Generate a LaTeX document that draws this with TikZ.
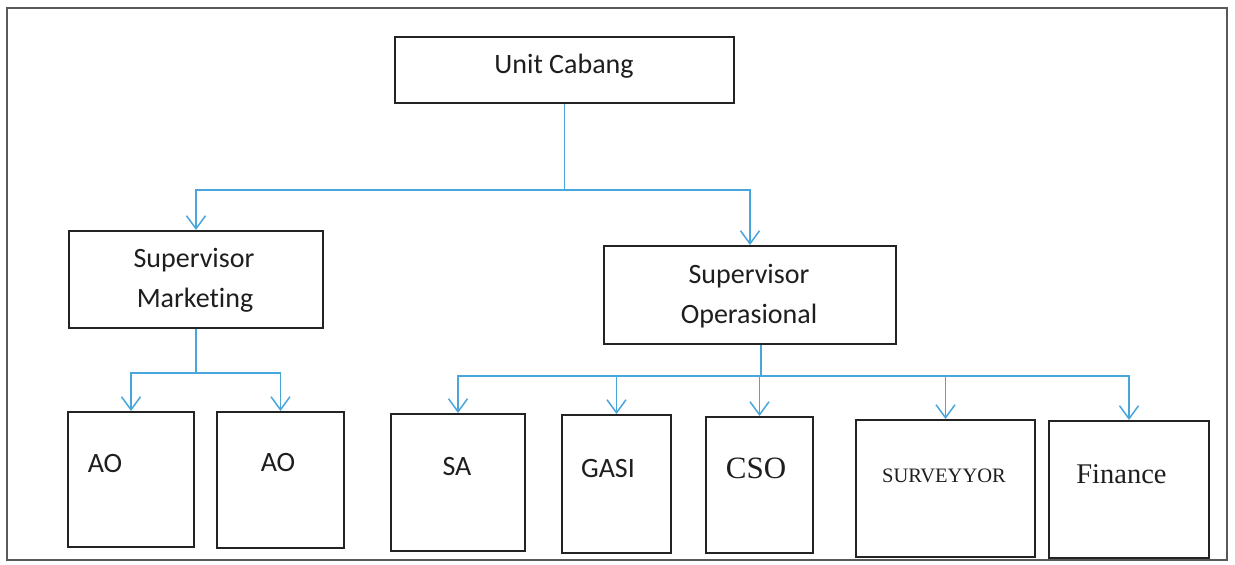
\documentclass[tikz,border=0pt]{standalone}
\usepackage{fontspec}
\setmainfont{Carlito}[RawFeature={-liga}]
\newfontfamily\timesf{Liberation Serif}
\usetikzlibrary{arrows.meta,calc}
\definecolor{connblue}{RGB}{72,166,221}
\definecolor{boxline}{RGB}{35,35,35}
\definecolor{txt}{RGB}{30,30,30}
\tikzset{
  orgbox/.style={draw=boxline,line width=2pt,rectangle,anchor=north west,inner sep=0pt},
  conn/.style={draw=connblue,line width=1.5pt},
  arr/.style={conn,-{Straight Barb[length=13pt,width=19pt,line width=1.5pt]}},
  lbl/.style={anchor=base,inner sep=0pt,text=txt,font=\fontsize{28}{34}\selectfont},
  lbltimes/.style={anchor=base,inner sep=0pt,text=txt,font=\timesf\fontsize{31}{36}\selectfont},
  lblsmall/.style={anchor=base,inner sep=0pt,text=txt,font=\timesf\fontsize{20.5}{24}\selectfont},
  frame/.style={draw=black!65,line width=1.3pt}
}
\begin{document}
\begin{tikzpicture}[x=1pt,y=-1pt]
\useasboundingbox (0,0) rectangle (1235,565);
\fill[white] (0,0) rectangle (1235,565);
\draw[frame] (7,8) rectangle (1227,560);

% boxes
\node[orgbox,minimum width=339pt,minimum height=66pt] (uc) at (394,36) {};
\node[orgbox,minimum width=254pt,minimum height=97pt] (sm) at (68,230) {};
\node[orgbox,minimum width=292pt,minimum height=98pt] (so) at (603,245) {};
\node[orgbox,minimum width=126pt,minimum height=135pt] (ao1) at (67,411) {};
\node[orgbox,minimum width=127pt,minimum height=136pt] (ao2) at (216,411) {};
\node[orgbox,minimum width=134pt,minimum height=137pt] (sa) at (390,413) {};
\node[orgbox,minimum width=109pt,minimum height=138pt] (gasi) at (561,414) {};
\node[orgbox,minimum width=107pt,minimum height=136pt] (cso) at (705,416) {};
\node[orgbox,minimum width=179pt,minimum height=137pt] (surv) at (855,419) {};
\node[orgbox,minimum width=160pt,minimum height=137pt] (fin) at (1048,420) {};

% labels
\node[lbl] (tuc) at (564,73) {Unit Cabang};
\node[lbl] (tsm1) at (194,267) {Supervisor};
\node[lbl] (tsm2) at (195,307) {Marketing};
\node[lbl] (tso1) at (749,283) {Supervisor};
\node[lbl] (tso2) at (749,323) {Operasional};
\node[lbl] (tao1) at (105,472) {AO};
\node[lbl] (tao2) at (278,471) {AO};
\node[lbl] (tsa) at (457,475) {SA};
\node[lbl] (tgasi) at (608,477) {GASI};
\node[lbltimes] (tcso) at (756,478) {CSO};
\node[lblsmall] (tsurv) at (944,482) {SURVEYYOR};
\node[lbltimes,font=\timesf\fontsize{28.5}{34}\selectfont] (tfin) at (1121.5,483) {Finance};

% connectors
\coordinate (j1) at ($(uc.south)+(0,86)$);
\draw[conn] (uc.south) -- (j1);
\draw[arr] (j1) -| (sm.north);
\draw[arr] (j1) -| (so.north);

\coordinate (j2) at ($(sm.south)+(0,44)$);
\draw[conn] (sm.south) -- (j2);
\draw[arr] (j2) -| (ao1.north);
\draw[arr] (j2) -| (ao2.north);

\coordinate (j3) at ($(so.south)+(11,31)$);
\draw[conn] ($(so.south)+(11,0)$) -- (j3);
\draw[arr] (j3) -| (sa.north);
\draw[arr] (j3) -| (gasi.north);
\draw[arr] (j3) -| (cso.north);
\draw[arr] (j3) -| (surv.north);
\draw[arr] (j3) -| (fin.north);
\end{tikzpicture}
\end{document}
